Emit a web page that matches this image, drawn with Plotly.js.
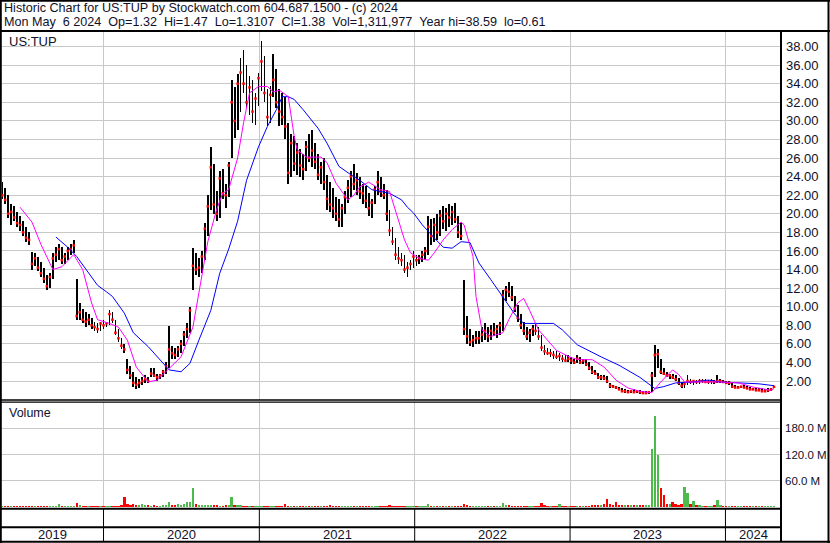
<!DOCTYPE html>
<html>
<head>
<meta charset="utf-8">
<script src="https://cdn.plot.ly/plotly-3.0.1.min.js"></script>
<style>html,body{margin:0;padding:0;background:#fff;}#chart{width:830px;height:543px;}</style>
</head>
<body>
<div id="chart"></div>
<script>
// ---- DATA (weekly) ----
const startDate = '2019-05-08';
const priceHigh = [
23.4,22.8,22.0,21.0,20.8,20.2,19.8,19.2,18.6,18.0,
15.9,15.8,15.4,14.8,14.2,13.4,13.6,15.8,16.4,16.8,
16.4,15.8,16.4,16.8,17.2,13.0,10.4,9.8,9.4,9.2,
8.8,8.4,8.2,8.4,8.6,8.4,9.6,9.4,8.6,7.6,
6.6,6.0,4.4,3.6,3.0,2.4,2.2,2.4,2.6,2.4,
3.4,3.4,2.8,2.8,3.2,4.0,7.9,5.8,5.6,5.8,
6.4,7.4,8.2,10.0,16.3,15.8,15.2,16.0,19.0,22.0,
27.2,25.4,22.4,24.6,24.8,23.2,25.6,34.4,33.6,35.0,
36.8,37.6,36.0,34.8,34.4,33.0,35.2,38.6,37.0,33.4,
33.8,37.2,35.6,33.4,33.0,32.6,29.8,28.6,28.4,27.6,
27.0,26.4,27.8,28.6,29.0,27.6,26.4,25.6,26.0,24.2,
23.4,22.8,21.8,21.6,21.0,22.4,23.6,24.6,25.4,24.4,
24.0,23.2,23.0,22.2,21.6,23.0,24.6,24.0,23.2,22.6,
20.4,18.6,17.4,16.4,15.8,15.6,14.8,15.0,16.0,15.6,
15.6,16.0,16.4,19.8,19.4,19.6,20.0,20.4,20.8,20.6,
21.0,20.8,21.2,19.8,19.0,12.9,9.0,7.6,7.0,7.4,
7.4,7.8,8.2,7.8,8.0,8.2,8.0,8.4,11.8,12.2,
12.7,12.2,11.2,10.2,9.2,8.4,7.8,7.6,8.0,8.2,
7.8,7.0,5.9,5.6,5.4,5.2,5.2,5.0,4.8,4.8,
4.8,4.6,4.4,4.8,4.6,4.4,4.4,4.0,3.6,3.2,
2.9,2.6,2.7,2.5,1.8,1.6,1.5,1.4,1.2,1.1,
1.0,1.0,1.1,1.0,1.0,0.9,0.9,0.9,3.0,5.9,
5.4,4.4,3.4,3.0,2.8,2.8,2.6,2.3,1.9,1.8,
2.7,2.2,2.1,2.1,2.2,2.2,2.2,2.1,2.2,2.1,
2.6,2.2,2.1,2.0,2.0,1.8,1.6,1.5,1.5,1.6,
1.5,1.4,1.3,1.3,1.2,1.2,1.1,1.2,1.3,1.47];
const priceLow = [
21.6,21.0,19.6,18.8,19.2,18.6,18.2,17.6,17.0,16.6,
14.0,14.4,13.8,13.2,12.6,11.8,12.0,13.0,14.8,15.0,
14.6,14.6,15.0,15.6,15.8,8.6,8.6,8.2,7.8,8.0,
7.6,7.4,7.2,7.4,7.6,7.8,8.0,8.2,7.0,6.2,
5.4,5.0,2.8,2.2,1.4,1.1,1.2,1.6,1.8,1.8,
2.4,2.4,2.0,2.2,2.4,2.8,3.4,4.4,4.4,4.6,
5.0,5.8,6.6,7.2,11.8,13.4,13.2,13.6,15.0,17.6,
20.4,20.0,19.2,19.6,21.6,20.6,21.8,26.0,28.2,29.0,
31.0,33.0,31.4,30.6,29.8,29.6,31.6,33.2,32.0,29.4,
29.8,32.6,31.4,29.4,29.6,28.0,23.2,24.0,24.6,24.2,
24.0,23.6,24.6,25.6,25.0,24.8,23.6,23.2,22.6,20.4,
20.2,19.6,19.2,18.6,18.6,20.0,21.2,21.8,22.6,22.0,
21.6,21.0,20.6,19.8,19.6,21.0,22.0,21.8,21.6,19.2,
17.6,16.6,15.0,14.6,14.4,13.6,13.2,14.0,14.2,14.4,
14.6,14.8,15.0,15.6,16.6,17.0,17.2,17.6,18.4,18.2,
18.6,18.8,19.0,17.4,17.2,7.0,6.0,5.8,5.7,6.0,
6.0,6.2,6.4,6.2,6.4,6.8,6.6,7.0,7.4,10.6,
11.0,10.6,9.4,8.4,7.6,7.0,6.4,6.2,6.8,7.0,
6.4,5.2,4.8,4.8,4.6,4.4,4.4,4.2,4.0,4.0,
4.0,3.8,3.8,3.9,3.8,3.8,3.6,3.2,2.8,2.6,
2.2,2.1,2.1,1.8,1.3,1.2,1.1,1.0,0.8,0.7,
0.7,0.7,0.7,0.7,0.6,0.6,0.6,0.6,0.8,2.4,
3.4,2.8,2.6,2.4,2.2,2.2,2.0,1.6,1.3,1.2,
1.6,1.7,1.6,1.7,1.7,1.8,1.8,1.7,1.7,1.7,
1.8,1.8,1.8,1.7,1.6,1.3,1.2,1.2,1.2,1.2,
1.1,1.0,1.0,0.9,0.9,0.8,0.8,0.8,0.9,1.2];
const priceClose = [
22.0,21.5,20.0,20.2,19.6,19.0,18.8,18.0,17.4,17.2,
14.6,15.2,14.2,13.6,13.0,12.2,13.2,15.2,15.6,16.2,
15.0,15.4,16.0,16.2,16.6,9.0,9.4,8.6,8.4,8.6,
8.0,7.8,7.6,8.2,8.0,8.2,9.2,8.6,7.2,6.6,
5.8,5.4,3.2,2.6,1.8,1.6,1.8,2.0,2.2,2.0,
2.8,2.6,2.4,2.6,3.0,3.6,5.4,5.0,4.8,5.4,
6.0,7.0,7.6,9.6,14.4,14.0,14.2,15.4,18.4,20.8,
25.0,21.0,20.0,23.8,22.2,22.0,25.2,32.0,30.0,34.0,
35.2,34.0,32.0,33.6,31.0,32.4,34.6,36.4,33.0,30.4,
32.8,34.4,32.0,31.0,30.4,29.4,24.4,27.6,25.4,26.6,
25.2,24.8,27.2,26.0,26.8,25.6,24.2,25.0,23.4,21.6,
21.0,20.6,20.0,19.4,20.6,21.8,22.8,24.0,23.2,23.6,
22.4,22.2,21.4,20.6,21.2,22.6,23.4,22.4,22.0,20.0,
18.2,17.0,15.6,15.2,15.0,14.0,14.2,14.6,15.4,15.0,
15.2,15.6,16.0,18.6,17.6,18.8,18.0,19.8,19.2,20.0,
19.6,20.2,19.4,18.0,17.6,7.6,6.8,6.2,6.4,6.6,
6.6,7.0,7.4,6.8,7.4,7.2,7.6,8.0,11.2,11.8,
11.6,11.0,9.8,8.8,8.0,7.4,6.8,7.2,7.6,7.4,
6.8,5.6,5.2,5.0,5.0,4.8,4.6,4.7,4.4,4.2,
4.4,4.2,4.0,4.4,4.0,4.2,3.8,3.4,3.0,2.8,
2.4,2.4,2.3,2.0,1.5,1.4,1.3,1.1,0.9,0.9,
0.8,0.9,0.8,0.9,0.8,0.7,0.7,0.8,2.6,4.8,
4.9,3.0,2.8,2.6,2.6,2.4,2.2,1.8,1.5,1.7,
2.0,1.9,2.0,1.9,2.0,2.0,1.9,1.9,2.0,1.9,
2.0,2.0,1.9,1.8,1.8,1.4,1.3,1.3,1.4,1.3,
1.2,1.1,1.1,1.0,1.0,0.9,0.9,1.0,1.1,1.38];
// volume in millions of shares
const volume = [
2,2,1.5,2,2,2.5,2,2,1.5,2,
3,2,2,2.5,2,2,3,2,2,7,
2,2,2,2,2.5,9,4,3,2,2,
2,2,2,2,3,2,2,3,2,3,
4,22,6,5,7,4,4,6,5,4,
3,4,3,3,4,4,11,4,5,6,
5,6,11,11,43,6,4,4,5,4,
5,4,4,3,3,4,5,23,4,4,
4,3,3,3,3,2,3,3,3,2,
3,3,2,2,2,8,3,3,2,2,
2,2,2,3,2,2,2,2,2,3,
5,2,2,2,2,2,2,2,2,2,
2,2,2,2,2,2,2,2,2,3,
4,3,3,3,2,2,2,2,2,2,
2,2,2,6,3,3,2,2,2,2,
2,3,2,3,3,8,4,3,2,2,
2,2,2,2,2,2,3,3,10,4,
4,3,3,3,2,2,2,2,3,3,
3,9,4,3,3,3,3,8,3,3,
3,3,3,3,3,3,3,3,4,4,
5,5,6,18,8,5,11,5,4,4,
4,4,4,5,4,5,4,5,133,208,
120,43,27,6,6,11,6,5,8,45,
32,8,13,4,4,3,3,3,3,4,
16,4,3,3,3,3,3,2,2,2,
2,2,2,2,2,2,2,2,2,3];
// moving averages (week index, value)
const maFastWeek = [6,10,13,17,20,24,27,30,32,36,39,42,45,49,52,55,60,64,67,69,72,74,76,79,81,83,86,89,91,93,96,97,98,99,102,107,109,112,116,118,120,123,127,130,131,133,135,137,140,143,145,148,151,154,155,158,159,161,164,168,170,173,175,177,180,183,186,191,194,198,202,206,210,214,218,221,224,225,227,229,233,241,247,252,258,259];
const maFastValue = [20.7,19.1,16.7,14.0,14.3,15.6,14.0,10.4,8.6,8.2,7.8,6.4,3.5,1.9,2.1,3.0,4.6,7.8,13.2,17.0,20.5,22.2,22.6,26.0,29.8,33.0,33.7,33.7,33.1,33.3,32.6,30.4,28.3,26.9,26.1,26.1,25.5,23.3,21.5,22.0,22.9,23.4,22.6,22.4,21.4,19.3,17.2,15.8,15.2,15.0,15.8,17.2,18.3,19.1,18.8,15.4,11.1,7.5,6.8,7.2,8.6,10.4,10.9,9.6,7.5,6.4,5.3,4.5,4.3,4.3,3.5,2.1,1.25,0.9,0.75,1.9,2.9,3.2,2.7,1.9,1.9,1.9,1.8,1.35,1.0,1.2];
const maSlowWeek = [18,22,25,28,32,35,37,41,44,49,53,56,60,63,66,70,73,76,79,82,86,89,92,94,96,98,101,106,109,113,117,120,124,130,134,136,138,141,145,148,151,154,157,160,164,167,172,175,180,185,188,193,201,207,214,219,222,226,232,237,241,248,254,259];
const maSlowValue = [17.5,16.4,15.4,14.1,12.3,11.6,11.1,9.3,7.2,5.7,4.3,3.2,3.0,3.9,6.4,9.6,13.6,16.2,19.2,23.6,27.2,29.4,31.2,32.6,32.6,32.3,31.2,29.2,27.6,25.1,24.2,23.6,22.6,22.2,21.5,20.7,20.1,18.8,17.4,16.4,16.3,17.0,16.9,14.7,12.9,11.5,9.2,8.2,8.2,8.2,7.5,5.9,4.6,3.7,2.4,1.2,1.4,1.8,1.9,2.1,1.9,1.8,1.7,1.5];
const priceTicks = [2,4,6,8,10,12,14,16,18,20,22,24,26,28,30,32,34,36,38];
const volumeTicks = [60,120,180];
const yearStarts = ['2020-01-01','2021-01-01','2022-01-01','2023-01-01','2024-01-01'];
const yearLabels = ['2019','2020','2021','2022','2023','2024'];
const titleLine1 = 'Historic Chart for US:TUP by Stockwatch.com 604.687.1500 - (c) 2024';
const titleLine2 = 'Mon May  6 2024  Op=1.32  Hi=1.47  Lo=1.3107  Cl=1.38  Vol=1,311,977  Year hi=38.59  lo=0.61';
const symbolLabel = 'US:TUP';
const volumeLabel = 'Volume';

// ---- build ----
const DAY = 86400000;
const t0 = Date.parse(startDate + 'T00:00:00Z');
const iso = ms => new Date(ms).toISOString().slice(0,10);
const dates = priceHigh.map((_, i) => iso(t0 + i*7*DAY));
const rangeStart = '2019-05-07 12:00', rangeEnd = '2024-05-10 12:00';

const L = 2, R = 781, T = 31, B = 509;
const px = v => (v - L) / (R - L);
const py = v => (B - v) / (B - T);
const FONT = 'Liberation Sans, Arial, sans-serif';
const TXT = '#10102a';
const nb = s => s.replace(/ /g, '\u00a0');

const volColors = volume.map((v, i) => (i === 0 || priceClose[i] >= priceClose[i-1]) ? '#4cbb4c' : '#ff0000');

const traces = [
  { type:'bar', x:dates, base:priceLow, y:priceHigh.map((h,i)=>h-priceLow[i]),
    width:4.2*DAY, marker:{color:'#000000', line:{width:0}}, xaxis:'x', yaxis:'y', hoverinfo:'skip' },
  { type:'scatter', mode:'markers', x:dates, y:priceClose,
    marker:{symbol:'square', size:2.5, color:'#ff0000', line:{width:0}}, xaxis:'x', yaxis:'y' },
  { type:'scatter', mode:'lines', x:maSlowWeek.map(i=>dates[i]), y:maSlowValue,
    line:{color:'#0000ff', width:1}, xaxis:'x', yaxis:'y' },
  { type:'scatter', mode:'lines', x:maFastWeek.map(i=>dates[i]), y:maFastValue,
    line:{color:'#ff00ff', width:1}, xaxis:'x', yaxis:'y' },
  { type:'bar', x:dates, y:volume, width:5.5*DAY,
    marker:{color:volColors, line:{width:0}}, xaxis:'x', yaxis:'y2' }
];

const shapes = [];
const line = (x0,y0,x1,y1,w,xref) => shapes.push({type:'line', xref:xref||'paper', yref:'paper',
  x0:x0, y0:y0, x1:x1, y1:y1, line:{color:'#000000', width:w}, layer:'above'});
line(px(0), py(0.8), px(830), py(0.8), 2);
line(px(0.8), py(0), px(0.8), py(543), 2);
line(px(828.5), py(0), px(828.5), py(543), 2);
line(px(0), py(541.8), px(830), py(541.8), 2);
line(px(0), py(31), px(830), py(31), 2);
line(px(781), py(31), px(781), py(542), 2);
line(px(0), py(400), px(781), py(400), 1.3);
line(px(0), py(402.2), px(781), py(402.2), 1.3);
line(px(0), py(508.8), px(781), py(508.8), 2);
line(px(0), py(527.3), px(781), py(527.3), 2);
yearStarts.forEach(d => shapes.push({type:'line', xref:'x', yref:'paper', x0:d, x1:d,
  y0:py(509), y1:py(542), line:{color:'#000000', width:1}, layer:'above'}));

const bounds = [Date.parse(rangeStart.replace(' ','T')+':00Z')]
  .concat(yearStarts.map(d=>Date.parse(d+'T00:00:00Z')))
  .concat([Date.parse(rangeEnd.replace(' ','T')+':00Z')]);
const annotations = [
  {text:nb(titleLine1), xref:'paper', yref:'paper', x:px(3), y:py(7.6), xanchor:'left', yanchor:'middle', showarrow:false, borderpad:0, font:{family:FONT, size:12.6, color:TXT}},
  {text:nb(titleLine2), xref:'paper', yref:'paper', x:px(3), y:py(22.4), xanchor:'left', yanchor:'middle', showarrow:false, borderpad:0, font:{family:FONT, size:12.6, color:TXT}},
  {text:symbolLabel, xref:'paper', yref:'paper', x:px(7), y:py(42), xanchor:'left', yanchor:'middle', showarrow:false, font:{family:FONT, size:13, color:TXT}},
  {text:volumeLabel, xref:'paper', yref:'paper', x:px(7), y:py(413), xanchor:'left', yanchor:'middle', showarrow:false, font:{family:FONT, size:12.5, color:TXT}}
];
yearLabels.forEach((lab, k) => {
  const mid = (bounds[k] + bounds[k+1]) / 2;
  annotations.push({text:lab, xref:'x', yref:'paper', x:new Date(mid).toISOString().replace('T',' ').slice(0,19),
    y:py(534.8), xanchor:'center', yanchor:'middle', showarrow:false, font:{family:FONT, size:13, color:TXT}});
});

const layout = {
  width:830, height:543,
  margin:{l:L, r:830-R, t:T, b:543-B, pad:0},
  paper_bgcolor:'#ffffff', plot_bgcolor:'#ffffff',
  showlegend:false, barmode:'overlay', bargap:0,
  font:{family:FONT, size:13, color:TXT},
  xaxis:{type:'date', range:[rangeStart, rangeEnd], tickmode:'array', tickvals:yearStarts,
    showticklabels:false, ticks:'', showgrid:true, gridcolor:'#c8c8c8', gridwidth:1,
    zeroline:false, showline:false, fixedrange:true},
  yaxis:{domain:[py(400), 1], range:[-0.04, 39.67], side:'right', tickmode:'array',
    tickvals:priceTicks, ticktext:priceTicks.map(v=>v.toFixed(2)), ticks:'', ticklabelstandoff:4,
    showgrid:true, gridcolor:'#c8c8c8', gridwidth:1, zeroline:false, showline:false,
    tickfont:{family:FONT, size:13, color:TXT}},
  yaxis2:{domain:[py(507), py(402)], range:[0, 240.2], side:'right', anchor:'x', tickmode:'array',
    tickvals:volumeTicks, ticktext:volumeTicks.map(v=>v.toFixed(1)+' M'), ticks:'', ticklabelstandoff:3,
    showgrid:true, gridcolor:'#c8c8c8', gridwidth:1, zeroline:false, showline:false,
    tickfont:{family:FONT, size:11.5, color:TXT}},
  shapes:shapes, annotations:annotations
};
Plotly.newPlot('chart', traces, layout, {staticPlot:true, displayModeBar:false});
</script>
</body>
</html>
